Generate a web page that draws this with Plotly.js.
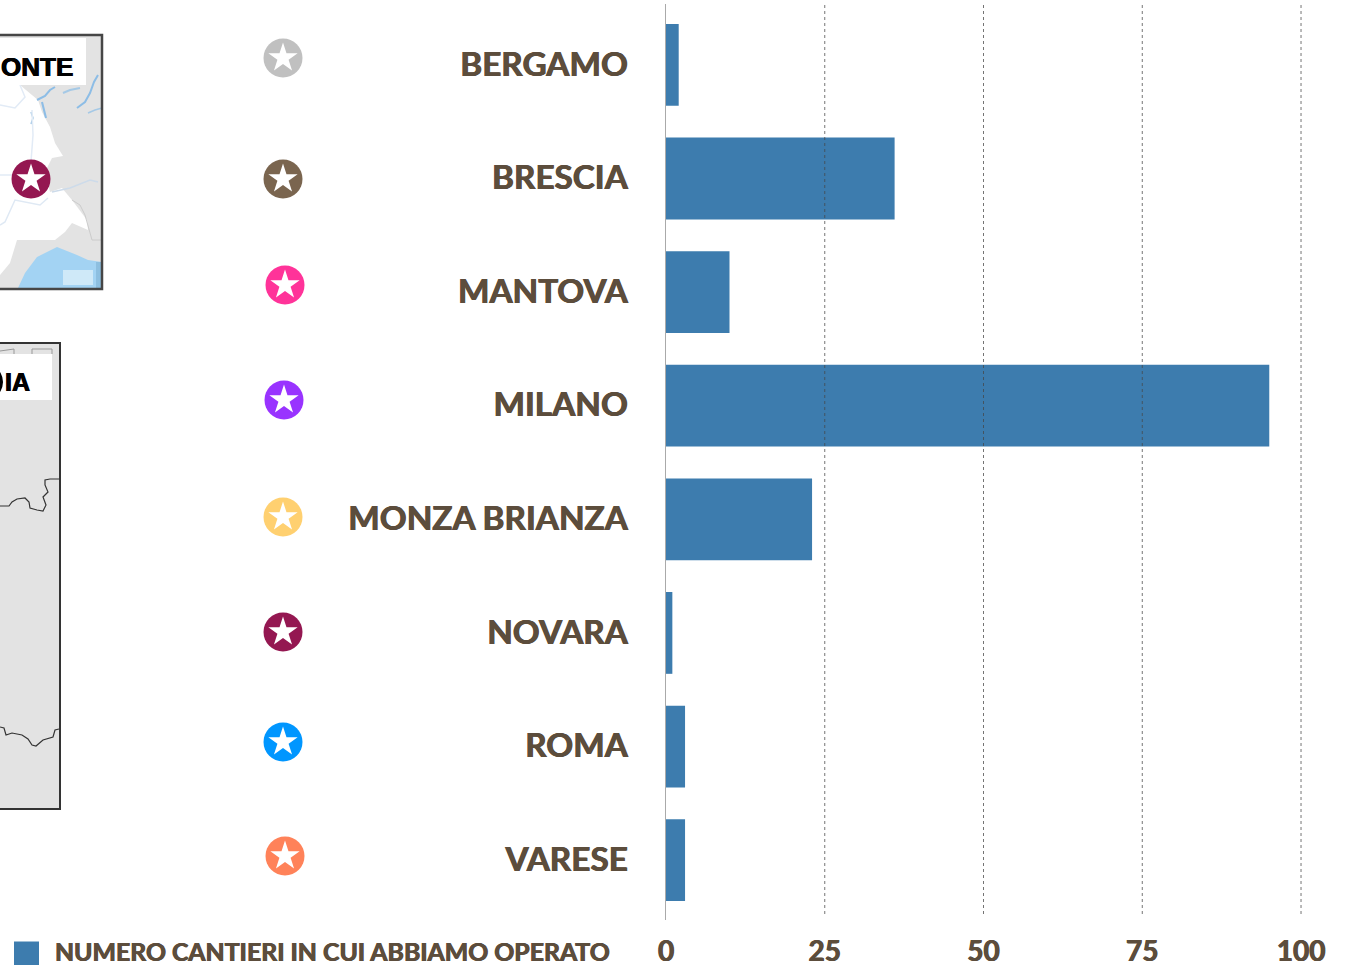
<!DOCTYPE html>
<html>
<head>
<meta charset="utf-8">
<script src="https://cdn.plot.ly/plotly-3.0.1.min.js"></script>
<style>html,body{margin:0;padding:0;background:#fff;overflow:hidden}#c{width:1347px;height:965px}</style>
</head>
<body>
<div id="c"></div>
<script>
const cities = ["BERGAMO","BRESCIA","MANTOVA","MILANO","MONZA BRIANZA","NOVARA","ROMA","VARESE"];
const cantieri = [2,36,10,95,23,1,3,3];
const xTicks = [0,25,50,75,100];
const gridValues = [25,50,75,100];
const seriesName = "NUMERO CANTIERI IN CUI ABBIAMO OPERATO";
const iconColors = ["#c0c0c0","#7a654f","#ff3399","#9933ff","#ffd070","#941751","#0096ff","#ff8259","#941751"];
const iconX = [283,283,285,284,283,283,283,285,31];
const iconY = [58,179,285,400,517,632,742,856,179];
const map1Label = "ONTE";
const map2Label = "IA";

const W = 1347, H = 965;
const ink = "#5c4d3c", barColor = "#3d7cae";
const fontFam = "Lato, 'Open Sans', sans-serif";
const thicken = "0.5px 0 0 #5c4d3c, -0.5px 0 0 #5c4d3c";

function poly(pts, close){ return "M" + pts.map(p=>p.join(",")).join("L") + (close?"Z":""); }
function shapePath(path, fill, lineColor, lineWidth){
  return {type:"path", xref:"x2", yref:"y2", layer:"below", path,
    fillcolor: fill||"rgba(0,0,0,0)", line:{color:lineColor||"rgba(0,0,0,0)", width:lineWidth||0}};
}
function rect(x0,y0,x1,y1,fill,lc,lw){
  return {type:"rect", xref:"x2", yref:"y2", layer:"below", x0,y0,x1,y1,
    fillcolor:fill||"rgba(0,0,0,0)", line:{color:lc||"rgba(0,0,0,0)", width:lw||0}};
}
const mapShapes = [
  // upper map
  rect(-3,35,102,289,"#e3e3e3"),
  shapePath(poly([[0,85],[20,85],[38,100],[42,112],[50,127],[55,143],[63,156],[52,158],[45,172],[50,192],[62,188],[72,200],[87,220],[88,230],[72,223],[65,232],[55,240],[30,240],[17,240],[10,263],[0,275]],true),"#ffffff"),
  shapePath(poly([[18,288],[25,273],[37,257],[57,247],[77,255],[88,260],[102,262],[102,288]],true),"#a3d3f3"),
  rect(63,270,93,285,"#cfe9f8"),
  rect(96,262,102,288,"#8dbfe0"),
  shapePath(poly([[37,100],[45,96],[50,90],[55,87]]),null,"#8dbde6",2),
  shapePath(poly([[42,102],[44,110],[46,118]]),null,"#8dbde6",2),
  shapePath(poly([[63,93],[70,90],[80,88]]),null,"#a5c9e6",2),
  shapePath(poly([[77,108],[85,102],[90,93],[94,82],[98,75]]),null,"#8dbde6",2),
  shapePath(poly([[88,113],[95,110],[102,108]]),null,"#a5c9e6",1.5),
  shapePath(poly([[31,112],[33,118],[31,124]]),null,"#a5c9e6",1.5),
  shapePath(poly([[20,85],[25,97],[15,108],[0,105]]),null,"#e2ebf6",1.5),
  shapePath(poly([[32,110],[33,135],[30,175],[0,175]]),null,"#e2ebf6",1.5),
  shapePath(poly([[52,192],[70,188],[90,180],[98,182]]),null,"#cddbea",1.5),
  shapePath(poly([[48,198],[40,205],[15,200],[5,222],[0,225]]),null,"#dfe9f4",1.5),
  shapePath(poly([[72,200],[80,205],[85,215],[92,240],[102,240]]),null,"#cccccc",1),
  rect(0,38,86,85,"#ffffff"),
  shapePath("M-3,35L102,35L102,289L-3,289",null,"#464646",2.5),
  // lower map
  rect(-3,343,60,809,"#e3e3e3"),
  shapePath(poly([[0,351],[14,349],[14,354]]),null,"#999999",1),
  shapePath(poly([[32,354],[32,349],[52,349],[52,354]]),null,"#999999",1),
  rect(0,354,52,400,"#ffffff"),
  shapePath("M-1,373Q4,382 -1,391",null,"#000000",3),
  shapePath(poly([[0,506],[9,506],[12,502],[17,499],[25,498],[29,502],[30,508],[37,510],[43,511],[46,505],[43,497],[48,492],[45,485],[45,480],[50,479],[59,479]]),null,"#333333",1.2),
  shapePath(poly([[0,727],[4,728],[6,735],[12,733],[22,735],[28,739],[32,745],[36,746],[43,740],[53,737],[55,730],[59,729]]),null,"#333333",1.2),
  shapePath("M-3,343L60,343L60,809L-3,809",null,"#333333",2)
];
const gridShapes = gridValues.map(v=>({type:"line", xref:"x", yref:"y2", layer:"above",
  x0:v, x1:v, y0:5, y1:917, line:{color:"rgba(70,70,70,0.75)", width:1, dash:"dot"}}));

const data = [
  {type:"bar", orientation:"h", name:seriesName, x:cantieri, y:cities, xaxis:"x", yaxis:"y",
   marker:{color:barColor, line:{width:0}}, showlegend:false, hoverinfo:"x+y"},
  {type:"scatter", mode:"markers", x:iconX, y:iconY, xaxis:"x2", yaxis:"y2", showlegend:false, hoverinfo:"skip",
   marker:{symbol:"circle", size:39, color:iconColors, line:{width:0}}},
  {type:"scatter", mode:"markers", x:iconX, y:iconY, xaxis:"x2", yaxis:"y2", showlegend:false, hoverinfo:"skip",
   marker:{symbol:"star", size:22, color:"#ffffff", line:{width:0}}},
  {type:"scatter", mode:"markers", x:[26.5], y:[954], xaxis:"x2", yaxis:"y2", showlegend:false, hoverinfo:"skip", cliponaxis:false,
   marker:{symbol:"square", size:25, color:barColor, line:{width:0}}}
];
const layout = {
  width:W, height:H, margin:{l:0,r:0,t:0,b:0}, paper_bgcolor:"#fff", plot_bgcolor:"rgba(0,0,0,0)",
  showlegend:false, bargap:0.28,
  font:{family:fontFam, color:ink},
  xaxis:{domain:[666/W,1], range:[0,107.24], anchor:"y", tickmode:"array", tickvals:xTicks, ticktext:xTicks.map(String),
    showgrid:false, zeroline:false, showline:false, ticks:"outside", ticklen:6, tickcolor:"rgba(0,0,0,0)",
    tickfont:{family:fontFam, size:28, color:ink, weight:700, shadow:thicken}},
  yaxis:{domain:[1-920/H,1-4/H], type:"category", categoryorder:"array", categoryarray:cities, range:[7.527,-0.536], anchor:"x",
    showgrid:false, zeroline:false, showline:true, linecolor:"#aaaaaa", linewidth:1.5,
    ticks:"outside", ticklen:30, tickcolor:"rgba(0,0,0,0)", ticklabelshift:1,
    tickfont:{family:fontFam, size:33.3, color:ink, weight:700, shadow:thicken}},
  xaxis2:{domain:[0,1], range:[0,W], anchor:"y2", visible:false, fixedrange:true},
  yaxis2:{domain:[0,1], range:[H,0], anchor:"x2", visible:false, fixedrange:true},
  shapes: mapShapes.concat(gridShapes),
  annotations:[
    {xref:"x2", yref:"y2", x:612, y:951, xanchor:"right", yanchor:"middle", text:seriesName, showarrow:false,
     font:{family:fontFam, size:24.8, color:ink, weight:700, shadow:thicken}},
    {xref:"x2", yref:"y2", x:75, y:66.5, xanchor:"right", yanchor:"middle", text:map1Label, showarrow:false,
     font:{family:"Liberation Sans", size:26, color:"#000", weight:700, shadow:"0.5px 0 0 #000, -0.5px 0 0 #000"}},
    {xref:"x2", yref:"y2", x:32, y:382, xanchor:"right", yanchor:"middle", text:map2Label, showarrow:false,
     font:{family:"Liberation Sans", size:25, color:"#000", weight:700, shadow:"0.5px 0 0 #000, -0.5px 0 0 #000"}}
  ]
};
Plotly.newPlot("c", data, layout, {displayModeBar:false, staticPlot:true});
</script>
</body>
</html>
